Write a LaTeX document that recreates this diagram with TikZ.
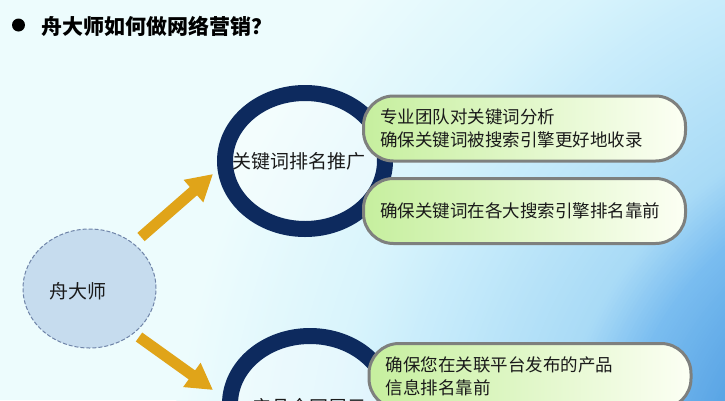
\documentclass[tikz,border=0pt]{standalone}
\usepackage{fontspec}
\newfontfamily\cjk{Noto Sans CJK SC}
\usetikzlibrary{shapes.geometric,arrows.meta}
\definecolor{sA}{HTML}{3A8CD8}
\definecolor{sB}{HTML}{5AA5E5}
\definecolor{sC}{HTML}{7ABDF0}
\definecolor{sD}{HTML}{A8DAF6}
\definecolor{sE}{HTML}{C8ECFB}
\definecolor{sF}{HTML}{D8F4FC}
\definecolor{sG}{HTML}{EDFCFD}
\definecolor{navy}{HTML}{0D2A5E}
\definecolor{gold}{HTML}{E0A419}
\definecolor{boxL}{HTML}{C6EF9E}
\definecolor{boxR}{HTML}{FCFFF4}
\definecolor{boxline}{HTML}{7E807E}
\definecolor{ellfill}{HTML}{C6DCEE}
\definecolor{elldraw}{HTML}{6F84A8}
\definecolor{txt}{HTML}{1A1A1A}
\tikzset{
  ring/.style={ellipse, draw=navy, line width=16pt, fill=white, fill opacity=0.35, minimum width=160pt, minimum height=136pt, inner sep=0pt},
  ringtext/.style={font=\cjk\fontsize{19}{22}\selectfont, text=txt, inner sep=0pt},
  infobox/.style={draw=boxline, line width=3pt, rounded corners=30pt, left color=boxL, right color=boxR, minimum width=322pt, minimum height=65pt, text width=289pt, align=left, inner sep=0pt, font=\cjk\fontsize{17.5}{23}\selectfont, text=txt},
  goldarrow/.style={draw=gold, line width=11pt, -{Triangle[length=26pt,width=28pt]}},
  centre/.style={ellipse, draw=elldraw, dash pattern=on 4pt off 2pt, line width=1pt, fill=ellfill, minimum width=133pt, minimum height=119pt, inner sep=0pt}
}
\begin{document}
\begin{tikzpicture}[x=1pt,y=-1pt]
\useasboundingbox (0,0) rectangle (725,400);
\clip (0,0) rectangle (725,400);
% background: radial glow from lower right
\fill[sG] (0,0) rectangle (725,400);
\foreach \ro/\ri/\co/\ci in {780/620/sG/sF, 620/550/sF/sE, 550/400/sE/sD, 400/340/sD/sC, 340/250/sC/sB, 250/0/sB/sA} {
  \pgfmathtruncatemacro\rs{\ro-3}
  \pgfmathtruncatemacro\re{\ri+2}
  \foreach \r in {\ro,\rs,...,\re} {
    \pgfmathtruncatemacro\p{(\ro-\r)/(\ro-\ri)*100}
    \fill[\ci!\p!\co] (950,500) circle[radius=\r];
  }
}
% title
\fill[black] (18.5,25) circle[radius=6.5];
\node[anchor=west, font=\cjk\bfseries\fontsize{21}{24}\selectfont, text=black, inner sep=0pt] (title) at (41,26) {舟大师如何做网络营销？};
% arrows
\coordinate (a1s) at (141,237);
\coordinate (a1e) at (213,174);
\coordinate (a2s) at (139,337);
\coordinate (a2e) at (213,390);
\draw[goldarrow] (a1s) -- (a1e);
\draw[goldarrow] (a2s) -- (a2e);
% centre ellipse
\node[centre] (zds) at (89.5,288.5) {};
\node[ringtext] (zdst) at (78,291) {舟大师};
% rings
\node[ring] (r1) at (305,161) {};
\node[ringtext] (r1t) at (298.5,161) {关键词排名推广};
\node[ring] (r2) at (310,404) {};
\node[ringtext] (r2t) at (309,407) {产品全网展示};
% boxes
\node[infobox] (b1) at (524.5,128.5) {专业团队对关键词分析\\确保关键词被搜索引擎更好地收录};
\node[infobox] (b2) at (524.5,211) {确保关键词在各大搜索引擎排名靠前};
\node[infobox] (b3) at (530,376) {确保您在关联平台发布的产品\\信息排名靠前};
\end{tikzpicture}
\end{document}
